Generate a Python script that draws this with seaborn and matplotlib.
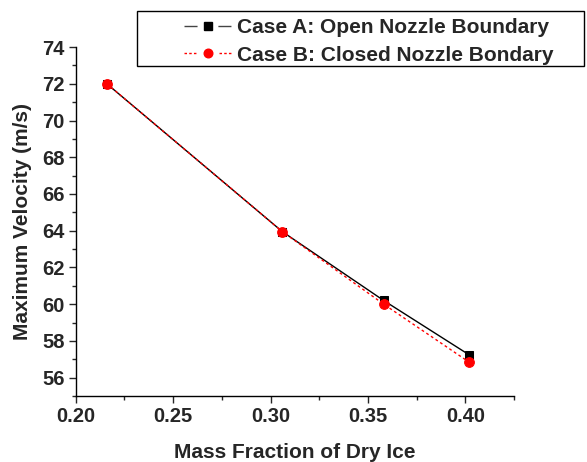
import pandas as pd
import matplotlib
matplotlib.use("Agg")
import matplotlib.pyplot as plt
import seaborn as sns
from matplotlib.ticker import MultipleLocator
from matplotlib.lines import Line2D
from matplotlib.patches import Rectangle

# Data
mass_fraction = [0.216, 0.306, 0.358, 0.402]
case_a = [72.0, 63.95, 60.2, 57.23]
case_b = [72.0, 63.95, 60.0, 56.83]
label_a = "Case A: Open Nozzle Boundary"
label_b = "Case B: Closed Nozzle Bondary"

sns.set_style("ticks")
plt.rcParams['font.family'] = ['Liberation Sans', 'DejaVu Sans']
plt.rcParams['font.weight'] = 'bold'

df_a = pd.DataFrame({'x': mass_fraction, 'y': case_a})
df_b = pd.DataFrame({'x': mass_fraction, 'y': case_b})

fig = plt.figure(figsize=(5.87, 4.62), dpi=100)
ax = fig.add_axes([0.129, 0.143, 0.747, 0.755])

sns.lineplot(data=df_a, x='x', y='y', ax=ax, color='black', lw=1.0,
             marker='s', markersize=5.3, markeredgecolor='black', legend=False)
sns.lineplot(data=df_b, x='x', y='y', ax=ax, color='red', lw=1.0,
             linestyle=(0, (2, 2)), marker='o', markersize=7,
             markeredgecolor='red', legend=False)

ax.set_xlim(0.2, 0.425)
ax.set_ylim(55, 74)
ax.xaxis.set_minor_locator(MultipleLocator(0.025))
ax.yaxis.set_minor_locator(MultipleLocator(1))
ax.set_xticks([0.20, 0.25, 0.30, 0.35, 0.40])
ax.set_xticklabels(['0.20', '0.25', '0.30', '0.35', '0.40'])
ax.set_yticks(range(56, 75, 2))

ax.tick_params(axis='both', which='major', direction='out', length=5, width=1,
               labelsize=14.5, pad=3)
ax.tick_params(axis='both', which='minor', direction='out', length=3, width=1)
for lbl in ax.get_xticklabels() + ax.get_yticklabels():
    lbl.set_fontweight('bold')

sns.despine(ax=ax)
for s in ['left', 'bottom']:
    ax.spines[s].set_linewidth(1.0)
    ax.spines[s].set_color('black')

ax.set_xlabel("Mass Fraction of Dry Ice", fontsize=15, fontweight='bold', labelpad=12)
ax.set_ylabel("Maximum Velocity (m/s)", fontsize=15, fontweight='bold', labelpad=7)

# legend: Origin-style handles (line - gap - marker - gap - line) inside a wide box
h_a = Line2D([], [], color='#444444', lw=1.0, linestyle=(0, (9.4, 15.0, 9.4, 0.1)),
             marker='s', markersize=5.3, markerfacecolor='black',
             markeredgecolor='black')
h_b = Line2D([], [], color='red', lw=1.0,
             linestyle=(0, (1.8, 1.6, 1.8, 1.6, 1.8, 16.6, 1.8, 1.6, 1.8, 1.6, 1.8, 0.1)),
             marker='o', markersize=6.2)
leg = ax.legend([h_a, h_b], [label_a, label_b], loc='upper left',
                bbox_to_anchor=(184 / 587, 1 - 18 / 462),
                bbox_transform=fig.transFigure, frameon=False,
                handlelength=2.26, borderpad=0, borderaxespad=0,
                labelspacing=0.42, handletextpad=0.3,
                prop={'size': 15, 'weight': 'bold'})
box = Rectangle((137 / 587, 1 - 66 / 462), (584 - 137) / 587, 55 / 462,
                transform=fig.transFigure, fill=False, edgecolor='black', lw=1.0)
fig.patches.append(box)

fig.savefig("out.png", dpi=100)
